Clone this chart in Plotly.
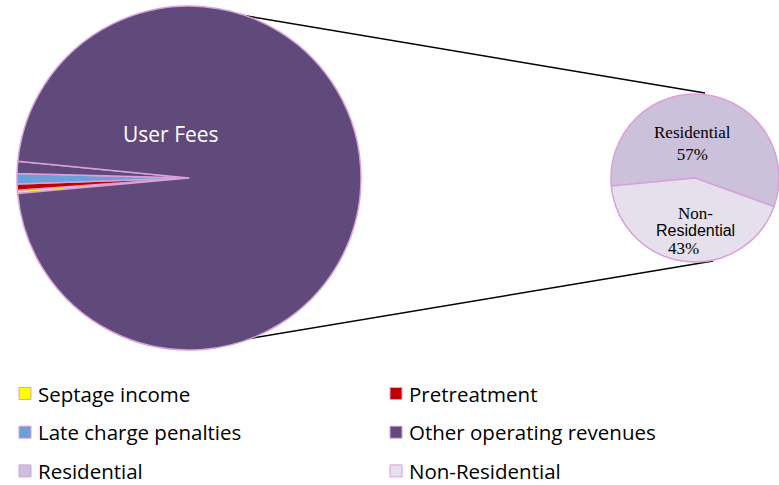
import plotly.graph_objects as go

# ---- data ----
primary_labels = ["Septage income", "Pretreatment", "Late charge penalties",
                  "Other operating revenues", "User Fees"]
primary_values = [0.3, 0.6, 0.95, 1.15, 97.0]
primary_colors = ["#FFFF00", "#C00000", "#6A9FD8", "#604A7B", "#604A7B"]

secondary_labels = ["Residential", "Non-Residential"]
secondary_values = [57, 43]
secondary_colors = ["#CCC1DA", "#E6E0EC"]

legend_labels = primary_labels[:4] + secondary_labels
legend_colors = primary_colors[:4] + secondary_colors

W, H = 779, 485
EDGE = "#D9A0D9"


def px(x):
    return x / W


def py(y):
    return 1 - y / H


fig = go.Figure()

# primary pie
cx, cy, r = 189, 178, 172
fig.add_trace(go.Pie(
    labels=primary_labels, values=primary_values, sort=False,
    direction="clockwise", rotation=264.8,
    marker=dict(colors=primary_colors, line=dict(color=EDGE, width=1.5)),
    textinfo="none", hoverinfo="label+percent", showlegend=False,
    domain=dict(x=[px(cx - r), px(cx + r)], y=[py(cy + r), py(cy - r)]),
))

# secondary pie
scx, scy, sr = 695, 178, 84
fig.add_trace(go.Pie(
    labels=secondary_labels, values=secondary_values, sort=False,
    direction="clockwise", rotation=264.6,
    marker=dict(colors=secondary_colors, line=dict(color=EDGE, width=1.5)),
    textinfo="none", hoverinfo="label+percent", showlegend=False,
    domain=dict(x=[px(scx - sr), min(1.0, px(scx + sr))], y=[py(scy + sr), py(scy - sr)]),
))

shapes = []
# connector lines
shapes.append(dict(type="line", xref="paper", yref="paper",
                   x0=px(223), y0=py(12), x1=px(705), y1=py(93),
                   line=dict(color="black", width=1.5), layer="below"))
shapes.append(dict(type="line", xref="paper", yref="paper",
                   x0=px(235), y0=py(341), x1=px(713), y1=py(261),
                   line=dict(color="black", width=1.5), layer="below"))

annotations = []
LEGEND_FONT = dict(family="Open Sans", size=20.5, color="black")

# "User Fees" label
annotations.append(dict(text=primary_labels[-1], xref="paper", yref="paper",
                        x=px(171), y=py(134), showarrow=False,
                        font=dict(family="Open Sans", size=21, color="white"),
                        xanchor="center", yanchor="middle"))

# secondary labels
tot = sum(secondary_values)
pcts = [round(v / tot * 100) for v in secondary_values]
SERIF = dict(family="Liberation Serif", size=17, color="black")
annotations.append(dict(text=f"{secondary_labels[0]}<br>{pcts[0]}%", xref="paper", yref="paper",
                        x=px(692), y=py(143), showarrow=False, font=SERIF,
                        xanchor="center", yanchor="middle"))
nr_parts = secondary_labels[1].split("-")
annotations.append(dict(text=f"{nr_parts[0]}-", xref="paper", yref="paper",
                        x=px(695), y=py(213.5), showarrow=False, font=SERIF,
                        xanchor="center", yanchor="middle"))
annotations.append(dict(text=nr_parts[1], xref="paper", yref="paper",
                        x=px(695), y=py(230), showarrow=False,
                        font=dict(family="Liberation Sans", size=16, color="black"),
                        xanchor="center", yanchor="middle"))
annotations.append(dict(text=f"{pcts[1]}%", xref="paper", yref="paper",
                        x=px(683), y=py(248.5), showarrow=False, font=SERIF,
                        xanchor="center", yanchor="middle"))

# legend
for i, (lab, col) in enumerate(zip(legend_labels, legend_colors)):
    c, row = i % 2, i // 2
    x0 = 19 + c * 371
    yc = 393.5 + row * 38.7
    shapes.append(dict(type="rect", xref="paper", yref="paper",
                       x0=px(x0), x1=px(x0 + 12), y0=py(yc + 6), y1=py(yc - 6),
                       fillcolor=col, line=dict(color=EDGE, width=1)))
    annotations.append(dict(text=lab, xref="paper", yref="paper",
                            x=px(x0 + 17), y=py(yc), showarrow=False, font=LEGEND_FONT,
                            xanchor="left", yanchor="middle"))

fig.update_layout(
    width=W, height=H, autosize=False,
    margin=dict(l=0, r=0, t=0, b=0),
    paper_bgcolor="white", plot_bgcolor="white",
    shapes=shapes, annotations=annotations,
)

fig.write_html("out.html", config={"displayModeBar": False},
               post_script="document.body.style.margin='0';document.body.style.padding='0';")
